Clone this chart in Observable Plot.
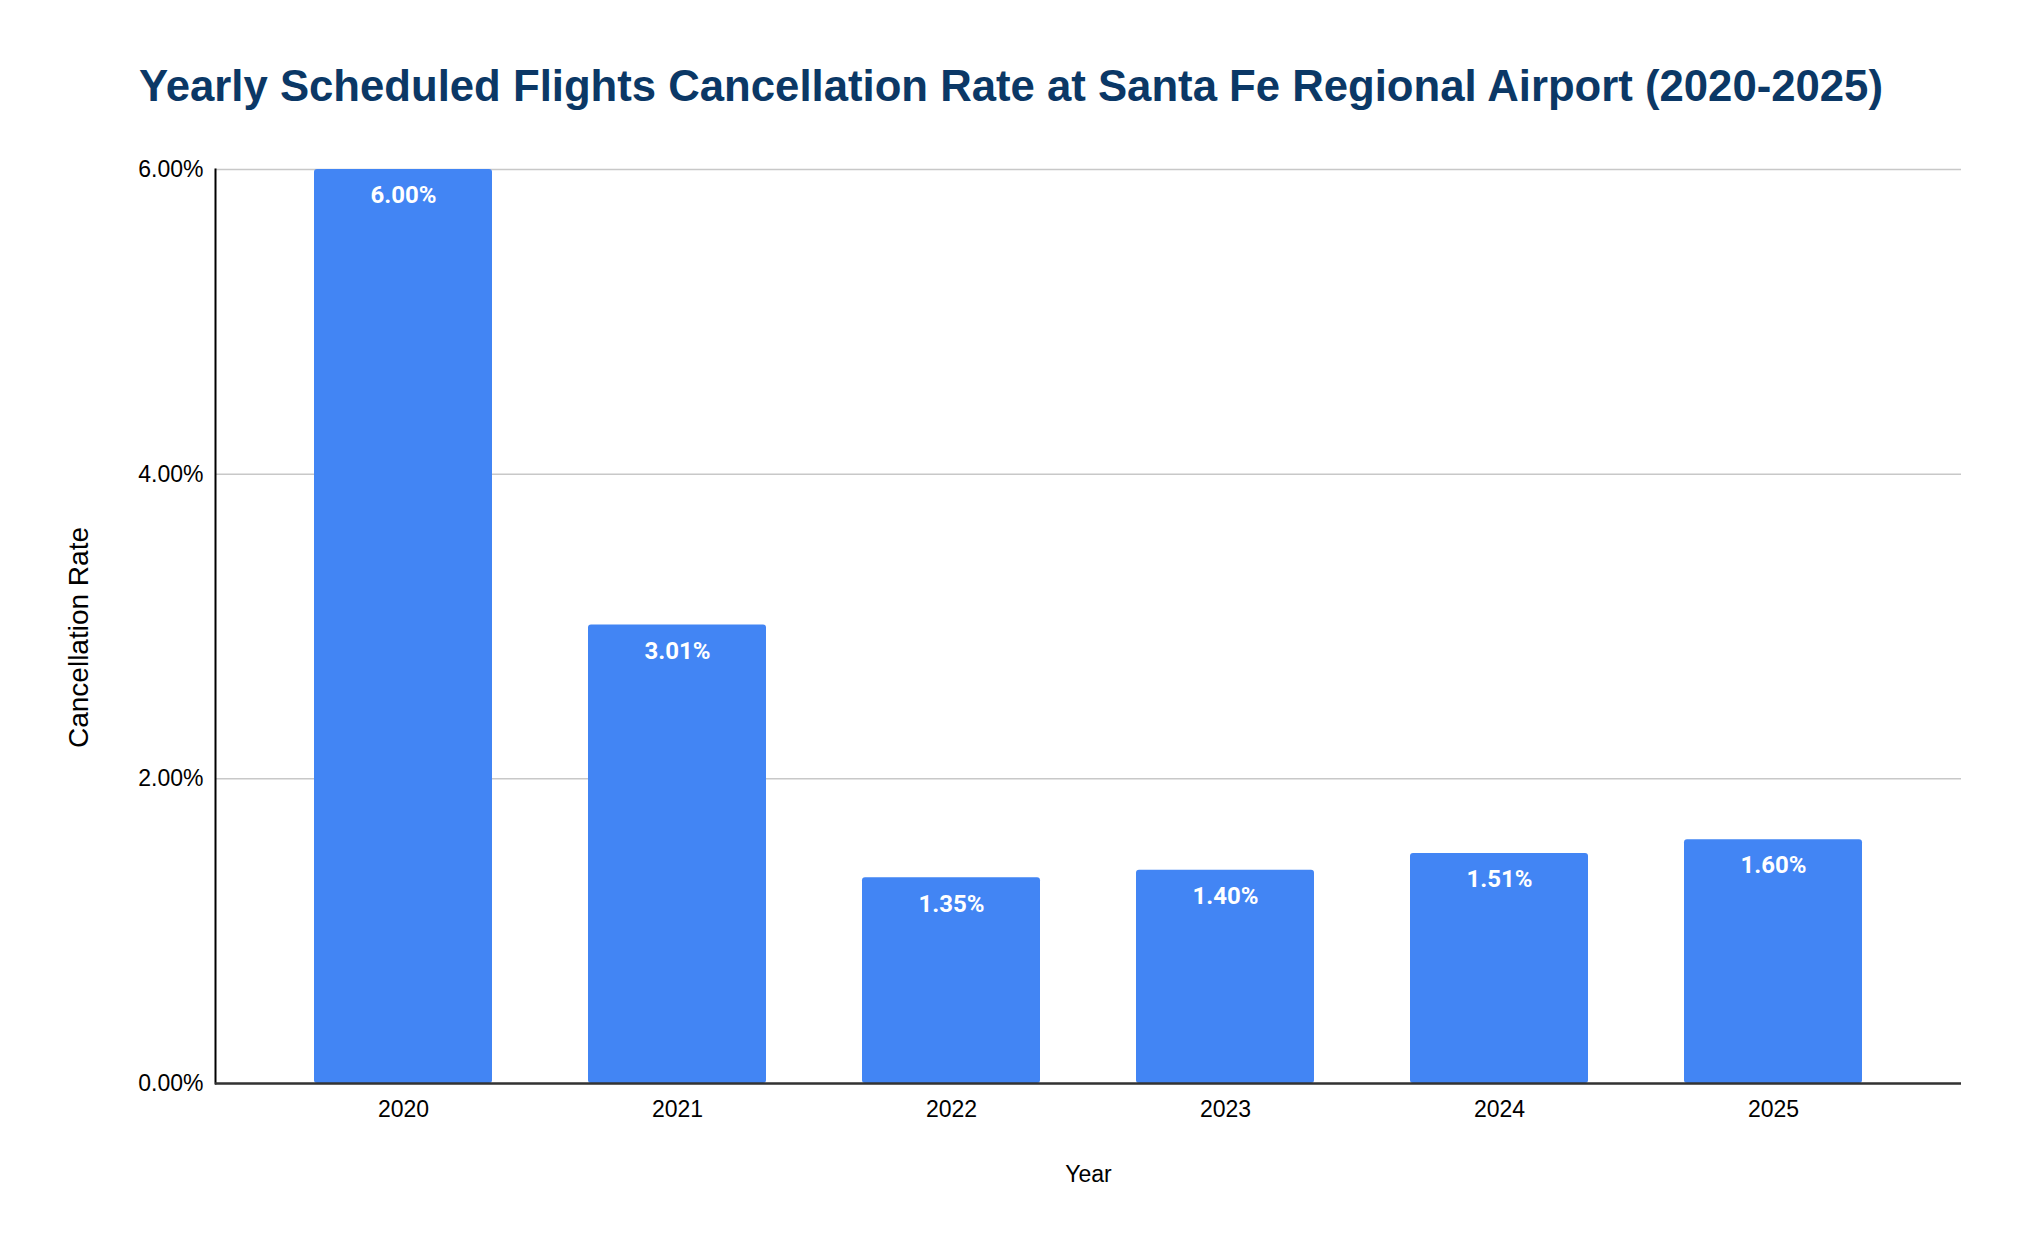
<!DOCTYPE html>
<html>
<head>
<meta charset="utf-8">
<script src="https://cdn.jsdelivr.net/npm/d3@7"></script>
<script src="https://cdn.jsdelivr.net/npm/@observablehq/plot@0.6"></script>
<style>
  html, body { margin: 0; padding: 0; background: #fff; }
  #title {
    height: 120px; box-sizing: border-box; padding-left: 139px; padding-top: 64px;
    font-family: "Liberation Sans", Arial, sans-serif; font-weight: bold; font-size: 43.7px;
    color: #0b3866; line-height: 1; white-space: nowrap;
  }
</style>
</head>
<body>
<div id="title">Yearly Scheduled Flights Cancellation Rate at Santa Fe Regional Airport (2020-2025)</div>
<div id="chart"></div>
<script>
const years = ["2020", "2021", "2022", "2023", "2024", "2025"];
const rates = [0.0600, 0.0301, 0.0135, 0.0140, 0.0151, 0.0160];
const yTicks = [0, 0.02, 0.04, 0.06];
const xTitle = "Year";
const yTitle = "Cancellation Rate";

const data = years.map((year, i) => ({year, rate: rates[i]}));

const chart = Plot.plot({
  width: 2024,
  height: 1130,
  marginTop: 49,
  marginBottom: 167,
  marginLeft: 215,
  marginRight: 63,
  style: {fontFamily: "'Liberation Sans', Arial, sans-serif", fontSize: "23px", color: "#000", background: "#fff"},
  x: {domain: years, paddingInner: 0.35, paddingOuter: 0.35, label: xTitle},
  y: {domain: [0, 0.06], label: null},
  marks: [
    Plot.gridY(yTicks, {stroke: "#c8c8c8", strokeOpacity: 1, strokeWidth: 1.5}),
    Plot.axisX({tickSize: 0, tickPadding: 17, labelAnchor: "center", labelArrow: "none", labelOffset: 98, fontSize: 23}),
    Plot.axisY({ticks: yTicks, tickFormat: d3.format(".2%"), tickSize: 0, tickPadding: 12, fontSize: 23}),
    Plot.text([yTitle], {frameAnchor: "left", textAnchor: "middle", lineAnchor: "middle", dx: -136, dy: 11, rotate: -90, fontSize: 28, fill: "#000"}),
    Plot.barY(data, {x: "year", y: "rate", fill: "#4285f4", rx: 3}),
    Plot.frame({anchor: "left", stroke: "#000", strokeWidth: 2}),
    Plot.ruleY([0], {stroke: "#333", strokeWidth: 2.5}),
    Plot.text(data, {x: "year", y: "rate", text: d => d3.format(".2%")(d.rate), dy: 26, fill: "#fff",
      fontFamily: "Roboto", fontWeight: "bold", fontSize: 24, lineAnchor: "middle"})
  ]
});
document.getElementById("chart").appendChild(chart);
</script>
</body>
</html>
